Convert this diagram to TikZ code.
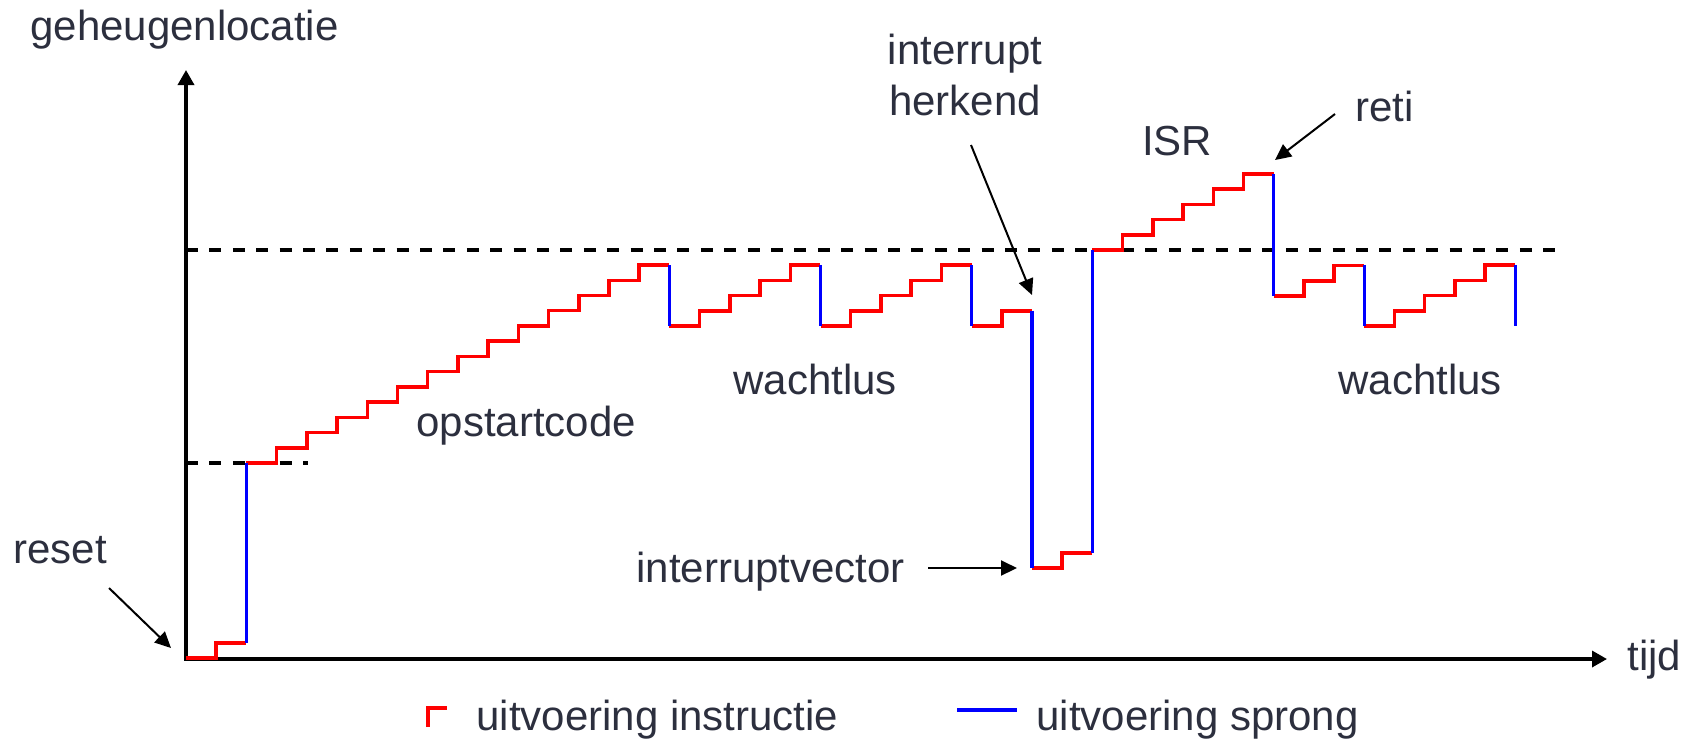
\documentclass[tikz,border=0pt]{standalone}
\usepackage{fontspec}
\setmainfont{Liberation Sans}
\usetikzlibrary{arrows.meta}
\definecolor{txt}{RGB}{44,47,62}
\definecolor{ired}{RGB}{255,0,0}
\definecolor{jblue}{RGB}{0,0,255}
\newcommand{\dxs}{30.214}
\newcommand{\dys}{15.23}
\tikzset{
  instr/.style={draw=ired,line width=1.75pt},
  jump/.style={draw=jblue,line width=1.75pt},
  axis/.style={draw=black,line width=1.7pt,-{Triangle[length=7.5pt,width=8pt]}},
  guide/.style={draw=black,line width=1.6pt,dash pattern=on 6pt off 5.7pt},
  ann/.style={draw=black,line width=1pt,-{Triangle[length=8pt,width=7.5pt]}},
  lbl/.style={text=txt,inner sep=0pt,font=\fontsize{21}{25.2}\selectfont},
}
\newcommand{\stair}[2]{\draw[instr] #1 \foreach \i in {1,...,#2}{ -- ++(\dxs,0) -- ++(0,-\dys) } -- ++(\dxs,0);}
\begin{document}
\begin{tikzpicture}[x=0.5pt,y=-0.5pt]
\useasboundingbox (0,0) rectangle (1696,741);
% axes
\coordinate (O) at (186,659);
\coordinate (ytop) at (186,70);
\coordinate (xend) at (1607,659);
\draw[axis] (186,660.5) -- (ytop);
\draw[axis] (185.3,659) -- (xend);
% guide lines
\coordinate (g1a) at (186,250);
\coordinate (g1b) at (1556,250);
\coordinate (g2a) at (186,463);
\coordinate (g2b) at (308,463);
\draw[guide] (g1a) -- (g1b);
\draw[guide] (g2a) -- (g2b);
% instruction staircases
\stair{(186,658)}{1}
\stair{(246.4,463)}{13}
\stair{(669.4,326)}{4}
\stair{(820.5,326)}{4}
\stair{(971.6,326)}{1}
\stair{(1032,568)}{1}
\stair{(1092.4,250)}{5}
\stair{(1273.7,296)}{2}
\stair{(1364.3,326)}{4}
% jumps
\draw[jump] (246.4,642.8) -- (246.4,463);
\draw[jump] (669.4,265) -- (669.4,326);
\draw[jump] (820.5,265) -- (820.5,326);
\draw[jump] (971.6,265) -- (971.6,326);
\draw[jump] (1032,310.7) -- (1032,568);
\draw[jump] (1092.4,552.8) -- (1092.4,250);
\draw[jump] (1273.7,173.9) -- (1273.7,296);
\draw[jump] (1364.3,265) -- (1364.3,326);
\draw[jump] (1515.4,265) -- (1515.4,326);
% labels
\node[lbl,anchor=base west] (ylab) at (30,40) {geheugenlocatie};
\node[lbl,anchor=base west] (reset) at (13,563) {reset};
\node[lbl,anchor=base west] (opstart) at (416,436) {opstartcode};
\node[lbl,anchor=base west] (wacht1) at (733,394) {wachtlus};
\node[lbl,anchor=base west] (wacht2) at (1338,394) {wachtlus};
\node[lbl,anchor=north,align=center] (herkend) at (965,34) {interrupt\\herkend};
\node[lbl,anchor=base] (isr) at (1177,155) {ISR};
\node[lbl,anchor=base west] (reti) at (1355,121) {reti};
\node[lbl,anchor=base west] (ivec) at (636,582) {interruptvector};
\node[lbl,anchor=base west] (tijd) at (1627,670) {tijd};
\node[lbl,anchor=base west] (leg1) at (476,730) {uitvoering instructie};
\node[lbl,anchor=base west] (leg2) at (1036,730) {uitvoering sprong};
% annotation arrows
\coordinate (resetS) at (109,588);
\coordinate (resetT) at (171,648);
\coordinate (herkS) at (971,145);
\coordinate (herkT) at (1032,295);
\coordinate (retiS) at (1335,114);
\coordinate (retiT) at (1275,160);
\coordinate (ivecS) at (928,568);
\coordinate (ivecT) at (1017,568);
\draw[ann] (resetS) -- (resetT);
\draw[ann] (herkS) -- (herkT);
\draw[ann] (retiS) -- (retiT);
\draw[ann] (ivecS) -- (ivecT);
% legend symbols
\coordinate (lr1) at (428,727);
\coordinate (lr2) at (428,708);
\coordinate (lr3) at (447,708);
\draw[instr] (lr1) -- (lr2) -- (lr3);
\coordinate (lb1) at (957,710);
\coordinate (lb2) at (1017,710);
\draw[jump] (lb1) -- (lb2);
\end{tikzpicture}
\end{document}
